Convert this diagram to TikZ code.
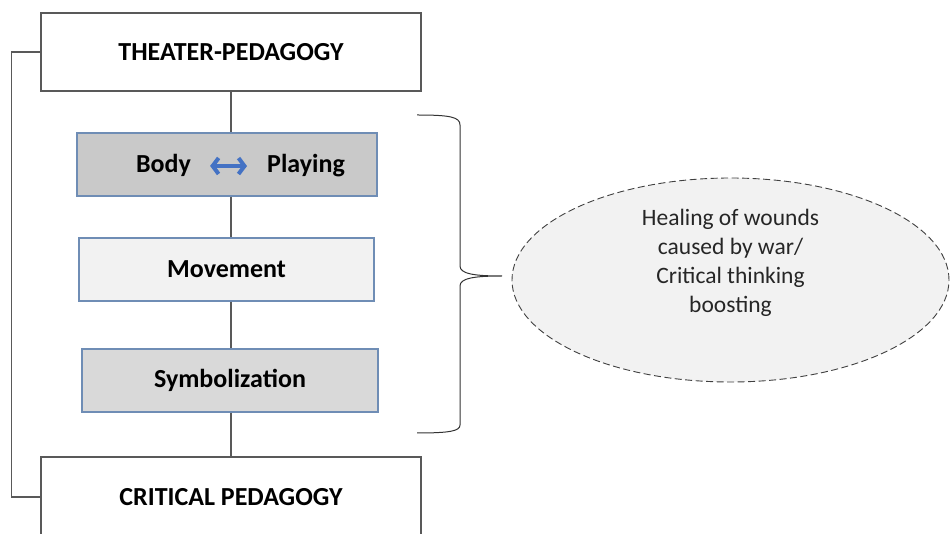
\documentclass[tikz,border=0pt]{standalone}
\usepackage{fontspec}
\setmainfont{Carlito}
\usetikzlibrary{shapes.geometric,arrows.meta}

\definecolor{framegray}{HTML}{595959}
\definecolor{edgeblue}{HTML}{6F8DB5}
\definecolor{darkfill}{HTML}{C9C9C9}
\definecolor{midfill}{HTML}{D9D9D9}
\definecolor{lightfill}{HTML}{F2F2F2}
\definecolor{arrowblue}{HTML}{4472C4}

\begin{document}
\begin{tikzpicture}[x=1pt, y=-1pt,
  outer/.style = {draw=framegray, fill=white, line width=1.2pt, minimum width=380, minimum height=78, font=\fontsize{26}{30}\selectfont\bfseries},
  inner/.style = {draw=edgeblue, line width=1.2pt, minimum height=63, font=\fontsize{26}{30}\selectfont\bfseries},
  word/.style = {inner sep=0pt, anchor=base, font=\fontsize{26}{30}\selectfont\bfseries},
  barb/.tip = {Straight Barb[length=6pt, width=16pt, line width=4pt]}]
\useasboundingbox (0,0) rectangle (951,534);

\node[outer] (theater) at (231, 52) { THEATER-PEDAGOGY };
\node[inner, fill=darkfill, minimum width=300] (bodyplay) at (227, 164.5) {};
\node[word] (body) at (163.5, 173) { Body };
\node[word] (playing) at (306, 173) { Playing };
\node[inner, fill=lightfill, minimum width=295] (movement) at (226.5, 269.5) { Movement };
\node[inner, fill=midfill, minimum width=296] (symbol) at (230, 380.5) { Symbolization };
\node[outer, minimum height=80] (critical) at (231, 497) { CRITICAL PEDAGOGY };

\node[ellipse, draw=black!75, dash pattern=on 7pt off 3.5pt, line width=0.9pt, fill=lightfill,
  minimum width=437, minimum height=204] (healing) at (730.5, 280) {};
\node[align=center, text=black!85, font=\fontsize{23.5}{29}\selectfont] (healtext) at ([yshift=17pt]healing.center)
  { Healing of wounds\\ caused by war/\\ Critical thinking\\ boosting };

\coordinate (bracetop) at (417, 115);
\coordinate (bracetip) at (502, 276);
\coordinate (bracebot) at (417, 433);

\begin{scope}[draw=framegray, line width=1.3pt]
\draw (theater.south) -- (theater.south |- bodyplay.north);
\draw (theater.south |- bodyplay.south) -- (theater.south |- movement.north);
\draw (theater.south |- movement.south) -- (theater.south |- symbol.north);
\draw (theater.south |- symbol.south) -- (critical.north);
\draw (theater.west) -- ++(-29, 0) |- (critical.west);
\end{scope}

\draw[arrowblue, line width=3.8pt, barb-barb] ([xshift=19]body.east) -- ([xshift=-20]playing.west);

% brace towards the ellipse
\draw[black!80, line width=1pt] (bracetop) .. controls (450, 115) and (460, 117) .. (460, 125)
  -- (460, 266) .. controls (460, 274) and (475, 276) .. (bracetip)
  .. controls (475, 276) and (460, 278) .. (460, 286)
  -- (460, 425) .. controls (460, 431) and (450, 433) .. (bracebot);
\end{tikzpicture}
\end{document}
